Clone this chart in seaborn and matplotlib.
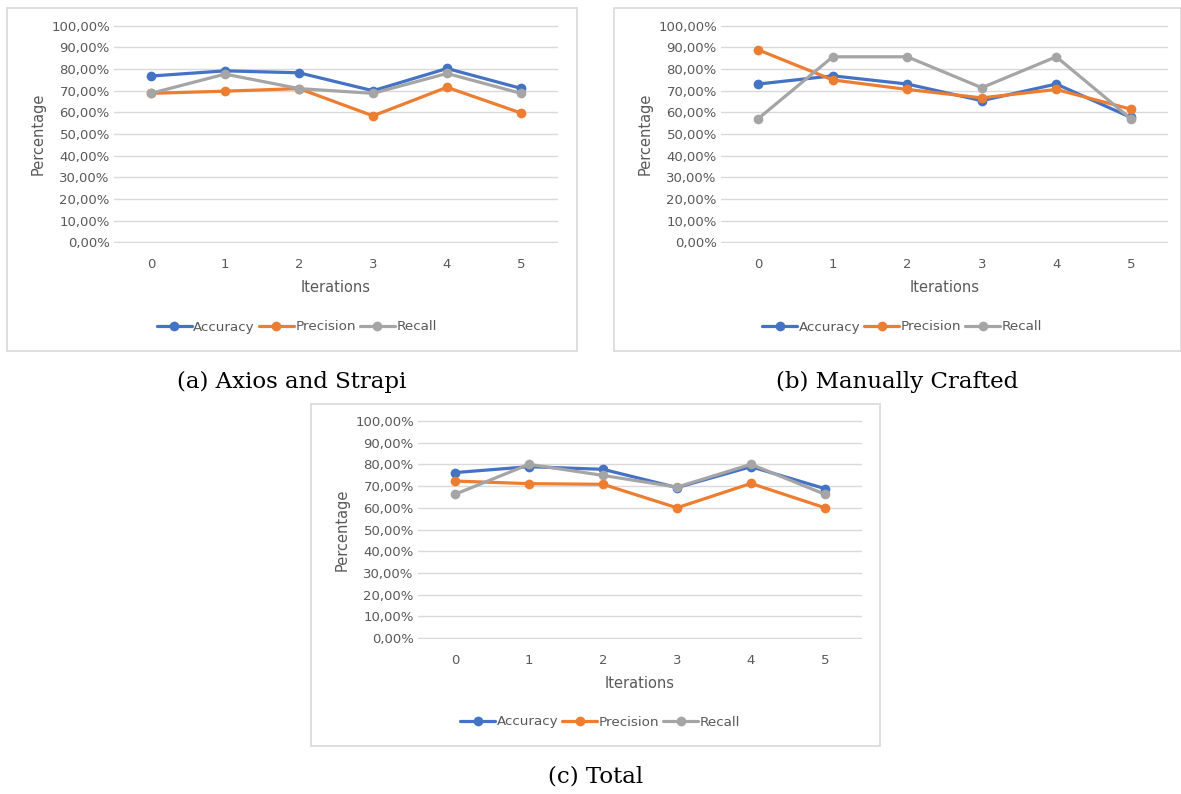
import numpy as np
import pandas as pd
import seaborn as sns
import matplotlib.pyplot as plt
import matplotlib.ticker as ticker
from matplotlib.patches import Rectangle

# Data (percent)
iterations = [0, 1, 2, 3, 4, 5]
series_names = ['Accuracy', 'Precision', 'Recall']

axios_accuracy = [76.8, 79.2, 78.3, 70.0, 80.3, 71.1]
axios_precision = [68.8, 69.8, 71.0, 58.4, 71.6, 59.7]
axios_recall = [68.8, 77.7, 71.0, 68.8, 78.0, 68.8]

manual_accuracy = [73.1, 76.9, 73.1, 65.4, 73.1, 57.7]
manual_precision = [88.9, 75.0, 70.6, 66.7, 70.6, 61.5]
manual_recall = [57.1, 85.7, 85.7, 71.4, 85.7, 57.1]

total_accuracy = [76.2, 78.9, 77.7, 69.3, 78.9, 68.8]
total_precision = [72.3, 71.1, 70.8, 60.0, 71.2, 60.0]
total_recall = [66.2, 80.0, 74.9, 69.5, 80.0, 66.2]

captions = ['(a) Axios and Strapi', '(b) Manually Crafted', '(c) Total']

colors = ['#4472C4', '#ED7D31', '#A5A5A5']
text_color = '#595959'
grid_color = '#D9D9D9'

W, H = 1181, 794
sns.set_style('white')
plt.rcParams['font.family'] = ['DejaVu Sans']

fig = plt.figure(figsize=(W / 100, H / 100), dpi=100)


def px_rect(l, t, r, b):
    # convert pixel box (top-left origin) to figure fraction
    return [l / W, 1 - b / H, (r - l) / W, (b - t) / H]


def make_chart(axes_px, box_px, values, caption, caption_y):
    # outer chart frame
    bl, bt, br, bb = box_px
    fig.patches.append(Rectangle((bl / W, 1 - bb / H), (br - bl) / W, (bb - bt) / H,
                                 transform=fig.transFigure, fill=False,
                                 edgecolor=grid_color, linewidth=1.2))
    ax = fig.add_axes(px_rect(*axes_px))
    for name, vals, col in zip(series_names, values, colors):
        df = pd.DataFrame({'Iteration': iterations, 'Value': np.array(vals) / 100})
        sns.lineplot(data=df, x='Iteration', y='Value', ax=ax, color=col, label=name,
                     marker='o', markersize=7, markeredgewidth=0, linewidth=2.3)
    ax.set_xlim(-0.5, 5.5)
    ax.set_ylim(-0.004, 1.004)
    ax.set_xticks(iterations)
    ax.set_yticks(np.arange(0, 1.01, 0.1))
    ax.yaxis.set_major_formatter(ticker.FuncFormatter(
        lambda v, p: f'{v * 100:.2f}%'.replace('.', ',')))
    ax.grid(axis='y', color=grid_color, linewidth=1)
    ax.grid(axis='x', visible=False)
    for s in ax.spines.values():
        s.set_visible(False)
    ax.tick_params(axis='y', length=0, pad=3, labelsize=9.5, labelcolor=text_color)
    ax.tick_params(axis='x', length=0, pad=11, labelsize=9.5, labelcolor=text_color)
    ax.set_xlabel('Iterations', fontsize=10.5, color=text_color, labelpad=6)
    ax.set_ylabel('Percentage', fontsize=10.5, color=text_color, labelpad=4)
    ax.legend(loc='center', bbox_to_anchor=((bl + br) / 2 / W + 0.004, 1 - (bb - 24) / H),
              bbox_transform=fig.transFigure, ncol=3, frameon=False, fontsize=9.7,
              handlelength=2.6, handletextpad=0.1, columnspacing=0.3,
              labelcolor=text_color)
    fig.text((bl + br) / 2 / W, 1 - caption_y / H, caption, ha='center', va='center',
             fontsize=16.5, color='black', family=['DejaVu Serif'])
    return ax


make_chart((114, 25, 558, 243), (7, 8, 577, 351),
           [axios_accuracy, axios_precision, axios_recall], captions[0], 382)
make_chart((721, 25, 1168, 243), (614, 8, 1181, 351),
           [manual_accuracy, manual_precision, manual_recall], captions[1], 382)
make_chart((418, 420, 862, 639), (311, 404, 880, 746),
           [total_accuracy, total_precision, total_recall], captions[2], 777)

fig.savefig('out.png', dpi=100)
